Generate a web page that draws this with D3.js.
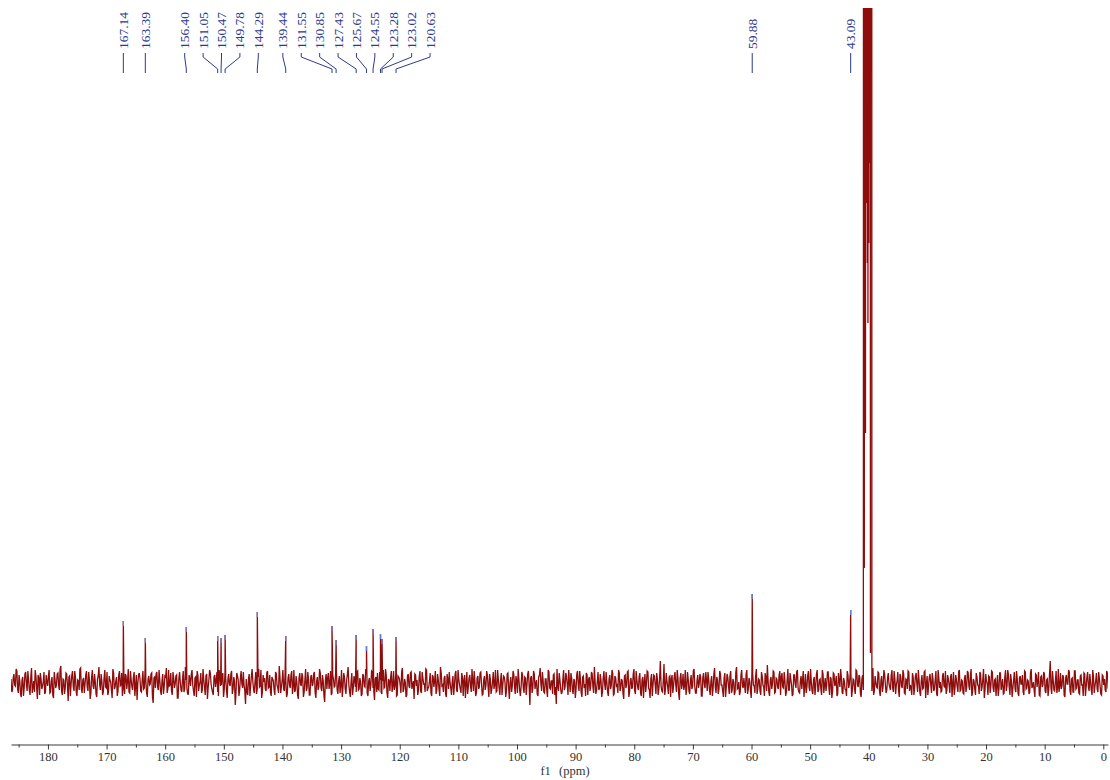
<!DOCTYPE html>
<html>
<head>
<meta charset="utf-8">
<script src="https://cdn.jsdelivr.net/npm/d3@7"></script>
<style>
  body { margin: 0; background: #fff; }
  svg { display: block; }
</style>
</head>
<body>
<svg id="chart" width="1110" height="780"></svg>
<script>
// 13C NMR spectrum, chemical shifts in ppm
const peakShifts  = [167.14, 163.39, 156.40, 151.05, 150.47, 149.78, 144.29, 139.44, 131.55,
                     130.85, 127.43, 125.67, 124.55, 123.28, 123.02, 120.63, 59.88, 43.09];
const peakHeights = [62, 45, 56, 47, 45, 48, 71, 47, 57, 43, 48, 37, 54, 49, 44, 46, 89, 73];
const peakLabels  = ["167.14", "163.39", "156.40", "151.05", "150.47", "149.78", "144.29", "139.44", "131.55",
                     "130.85", "127.43", "125.67", "124.55", "123.28", "123.02", "120.63", "59.88", "43.09"];

// solvent multiplet (off scale): line maxima and the valleys between them
const solventShifts  = [40.84, 40.76, 40.69, 40.56, 40.49, 40.40, 40.33, 40.25, 40.20, 40.14,
                        40.08, 40.00, 39.94, 39.86, 39.80, 39.72, 39.64, 39.55, 39.47];
const solventHeights = [4000, 115, 4000, 250, 4000, 480, 4000, 420, 4000, 360,
                        4000, 440, 4000, 520, 4000, 30, 4000, 4000, -8];

// baseline noise: two interleaved sample sets, from 186.3 ppm downward every 0.25 ppm
const noiseStart = 186.3;
const noiseStep = 0.25;
const noiseA = [
  4,-7,9,-3,12,-10,2,-14,6,-5,11,-8,3,-12,15,-4,-9,7,-16,5,10,-6,1,-11,8,
  -3,13,-9,6,-15,4,-2,10,-7,17,-12,3,-5,9,-18,7,-1,12,-8,5,-13,2,14,-6,3,
  -10,8,-4,11,-16,6,-3,9,-11,4,16,-7,2,-9,13,-5,-12,7,1,-15,10,-4,6,-8,12,
  -2,-13,5,9,-6,14,-10,3,-7,11,-3,-17,8,4,-9,12,-5,2,-14,7,-1,10,-20,6,9,
  -4,13,-8,2,-11,7,15,-6,-3,10,-12,5,-1,8,-15,11,-7,3,-9,16,-5,-11,4,9,-2,
  -13,6,12,-8,1,-10,14,-4,7,-16,3,10,-6,-12,8,2,-9,13,-3,5,-14,11,-7,4,-1,
  9,-11,6,-22,10,3,-7,12,-5,-2,-21,-9,4,-13,7,1,-10,11,-6,14,-3,-15,8,5,-8,
  12,-4,-9,6,2,-12,9,-5,17,-10,3,-6,11,-14,5,-2,8,-11,13,-7,1,-16,10,-3,6,
  -9,14,-5,3,-12,8,-1,11,-15,6,-4,10,-8,2,-19,9,5,-6,12,-10,4,-3,13,-11,7,
  -2,-14,10,-6,3,16,-9,1,-12,7,-4,11,-7,5,-13,9,-3,14,-10,2,-8,12,-5,-17,6,
  10,-7,3,-11,13,-4,8,-15,2,6,-9,12,-3,-13,7,4,-10,15,-6,1,-12,9,-5,11,-2,
  -16,8,3,-7,12,-10,5,-1,14,-8,-4,10,-13,6,2,-11,9,-6,16,-3,-9,7,-14,4,11,
  -5,1,-12,9,-7,13,-2,-10,6,3,-15,11,-4,8,-9,2,12,-13,5,-6,10,-1,-11,7,-3,
  8,-14,4,-6,11,-2,-9,13,-5,3,-12,7,1,-8,10,-16,6,-3,9,-11,2,14,-7,-4,8,
  -10,5,-2,12,-22,7,-5,9,-1,-11,6,15,-8,3,-10,4,-14,11,-6,2,8,-12,-21,-3,10,
  -6,-9,13,-4,7,-12,1,10,-7,4,-15,9,-2,12,-10,6,-5,-13,8,3,-8,11,-4,16,-11,
  2,-7,9,-14,5,-1,11,-9,4,-6,13,-12,7,-3,-10,10,-5,2,-16,8,-2,12,-9,5,-4,
  14,-11,3,-7,10,-13,6,1,-9,12,-5,-15,9,-2,7,-11,4,-6,22,-8,2,-12,10,-4,6,
  -14,8,-3,11,-9,5,-17,10,-1,-7,13,-6,4,-11,8,-3,14,-10,2,-5,9,-13,6,-2,11,
  -8,4,-12,7,-5,15,-10,3,-6,9,-2,-14,10,-4,6,-11,12,-7,1,-9,16,-5,-12,8,-3,
  5,-10,13,-6,2,-15,9,-3,7,-11,4,-8,11,-2,-13,6,18,-9,3,-6,12,-10,5,-4,8,
  -12,10,-5,2,-9,14,-7,4,-13,8,-1,11,-6,-10,7,3,-14,9,-4,12,-8,1,-11,6,-3,
  13,-7,4,-12,9,-2,-8,11,-5,6,-15,10,-3,7,-11,2,14,-9,5,-6,-13,8,-1,10,-7,
  3,-11,12,-4,6,-14,8,-2,-9,11,-6,4,-12,15,-8,1,-5,10,-13,7,-3,9,-10,5,-1,
  -7,13,-9,4,-2,11,-14,6,-5,9,-11,3,12,-8,-4,10,-12,7,-1,13,-9,2,-6,11,-15,
  7,-3,9,-10,4,-6,12,-13,5,1,-8,10,-4,-11,8,-2,6,-14,11,-5,3,-9,13,-7,2,
  -11,8,-4,10,-7,14,-9,2,-12,6,-3,11,-8,4,-15,9,-1,7,-10,12,-5,3,-13,8,-6,
  10,-2,-11,6,-8,13,-4,9,-14,3,-6,12,-10,5,-1,8,-12,11,-5,2,-9,14,-3,-7,9,
  -4,11,-13,7,-2,9,-10,4,-6,22,-11,3,-8,12,-5,-9,10,-3,6,-14,8,-1,11,-12,5,
  -9,12,-5,3,-11,8,-2,10,-13,6,-4,9,-7,13,-10,2,-6,11,-3,-12,7,4,-9,10,-5
];
// second set, each sample half a step after the matching one above
const noiseB = [
  -9,5,-2,14,-6,8,-11,3,-13,9,-1,12,-7,6,-10,2,13,-5,8,-12,4,-3,11,-9,1,
  7,-10,2,-12,11,-5,9,-3,14,-8,4,-11,10,-2,6,-13,8,-4,12,-9,3,-7,15,-10,5,
  -1,12,-8,3,-10,13,-6,1,-14,7,-2,9,-12,5,-4,11,-9,3,-7,14,-6,2,-13,8,-3,
  10,-5,-11,7,2,-9,12,-4,6,-13,8,-1,10,-8,3,-6,15,-10,4,-2,9,-14,5,-5,11,
  -7,3,-12,9,-4,6,-10,13,-2,-8,11,-5,7,-15,4,1,-9,12,-6,3,-11,8,-3,13,-8,
  5,-14,8,-2,10,-7,3,-12,9,-5,13,-1,-9,6,-4,11,-13,7,-2,10,-6,4,-15,9,-3,
  12,-6,2,-10,7,-13,5,-1,11,-8,4,-12,9,-3,14,-7,2,-11,6,-4,13,-9,1,-6,10,
  -5,8,-13,4,-7,11,-2,-10,6,-4,13,-8,2,-11,9,-5,12,-3,-9,7,-12,5,-1,10,-14,
  3,-8,11,-12,6,-3,9,-10,2,-7,14,-5,8,-13,3,-6,10,-1,-12,8,-4,11,-7,2,-10,
  13,-4,6,-11,9,-2,-14,10,-5,3,-9,12,-6,1,-11,7,-4,9,-13,5,-2,11,-8,4,-9,
  -6,11,-9,2,-5,14,-10,4,-8,12,-3,-7,9,-12,6,-2,11,-9,4,-14,7,-3,10,-6,2,
  9,-3,-12,6,-8,11,-1,-9,13,-5,2,-10,8,-4,12,-7,3,-13,10,-2,5,-11,9,-6,1,
  -12,7,-3,12,-9,4,-6,10,-13,8,-1,-11,5,-3,14,-8,2,-10,7,-4,11,-12,3,-7,12,
  -4,9,-11,1,-6,13,-8,3,-12,10,-2,6,-14,9,-5,1,-9,12,-3,7,-10,4,-13,11,-5,
  6,-12,9,-3,5,-10,12,-6,3,-13,8,-1,11,-9,4,-7,13,-5,2,-11,9,-4,14,-8,3,
  -11,4,-7,10,-2,13,-9,5,-11,2,-6,12,-8,3,-14,7,-1,10,-12,6,-3,9,-10,1,-7,
  11,-5,3,-9,12,-7,1,-13,8,-3,10,-11,5,-2,13,-8,4,-10,7,-5,11,-14,3,-6,9,
  -8,12,-4,6,-10,3,-15,9,-1,11,-7,4,-13,8,-2,10,-12,5,-3,-9,19,-6,2,-11,7,
  4,-10,7,-2,13,-11,5,-6,9,-3,-12,11,-8,2,-6,12,-4,-10,8,-1,6,-13,10,-5,3,
  11,-7,2,-13,9,-4,6,-11,12,-2,-8,5,-14,9,-3,7,-10,4,-12,11,-6,1,-9,13,-5,
  -3,9,-11,5,-8,12,-2,-10,14,-5,3,-12,7,-4,10,-8,2,-13,6,-1,11,-9,4,-6,12,
  6,-4,11,-13,3,-7,10,-2,-11,8,-5,13,-9,2,-6,12,-3,-10,7,-5,14,-8,3,-12,9,
  -9,3,-6,13,-10,5,-2,11,-12,4,-8,9,-1,-13,10,-4,6,-11,2,-7,12,-5,9,-14,4,
  -6,13,-2,8,-11,4,-7,12,-3,-10,9,-5,2,-12,7,-4,11,-8,3,-9,13,-1,-7,10,-4,
  8,-5,12,-11,2,-7,9,-3,13,-10,4,-6,11,-2,-12,6,-4,10,-9,3,-13,8,-5,12,-1,
  -12,6,-2,10,-8,3,-11,13,-5,-9,7,-3,12,-7,4,-10,9,-1,-12,8,-4,11,-8,3,-10,
  5,-9,12,-3,7,-13,4,-6,10,-2,-11,9,-4,14,-7,2,-12,6,-3,11,-9,4,-2,-13,10,
  -7,4,-10,13,-3,8,-12,2,-5,11,-9,4,-13,7,-1,-9,12,-6,3,-11,10,-5,1,-14,8,
  2,-12,6,-4,11,-8,3,-13,9,-5,12,-7,2,-10,14,-3,-6,8,-12,5,-1,13,-8,4,-9,
  12,-6,3,-10,7,-2,-13,9,-4,11,-8,1,-12,6,-3,10,-9,5,-11,8,-2,-7,12,-5,3
];

const majorTicks = [180, 170, 160, 150, 140, 130, 120, 110, 100, 90, 80, 70, 60, 50, 40, 30, 20, 10, 0];
const minorTicks = [185, 175, 165, 155, 145, 135, 125, 115, 105, 95, 85, 75, 65, 55, 45, 35, 25, 15, 5];

const svg = d3.select("#chart");
const W = 1110, H = 780;
const plotLeft = 11, plotRight = 1108, plotTop = 8, axisY = 744.5;

svg.append("rect").attr("width", W).attr("height", H).attr("fill", "#fff");

const x = d3.scaleLinear().domain([186.3, -0.8]).range([plotLeft, plotRight]);
const y = d3.scaleLinear().domain([0, 675]).range([683, plotTop]);

// build the trace: noise samples + peak maxima + solvent lines
const solventLo = 39.42, solventHi = 40.92;
const pts = [];
function addNoise(arr, offset) {
  arr.forEach((v, i) => {
    const ppm = noiseStart - (i + offset) * noiseStep;
    if (ppm > solventLo && ppm < solventHi) return;
    pts.push([ppm, v]);
  });
}
addNoise(noiseA, 0);
addNoise(noiseB, 0.5);
peakShifts.forEach((p, i) => pts.push([p, peakHeights[i]]));
solventShifts.forEach((p, i) => pts.push([p, solventHeights[i]]));
pts.sort((a, b) => b[0] - a[0]);

const defs = svg.append("defs");
defs.append("clipPath").attr("id", "plotClip")
  .append("rect")
  .attr("x", plotLeft).attr("y", plotTop)
  .attr("width", plotRight - plotLeft).attr("height", axisY - plotTop - 4);

const line = d3.line().x(d => x(d[0])).y(d => y(d[1]));

svg.append("path")
  .datum(pts)
  .attr("clip-path", "url(#plotClip)")
  .attr("fill", "none")
  .attr("stroke", "#8e0c0c")
  .attr("stroke-width", 1.3)
  .attr("stroke-linejoin", "miter")
  .attr("d", line);

// peak-pick markers
svg.append("g").selectAll("line")
  .data(peakShifts)
  .join("line")
  .attr("x1", d => x(d)).attr("x2", d => x(d))
  .attr("y1", (d, i) => y(peakHeights[i]))
  .attr("y2", (d, i) => y(peakHeights[i]) + 5)
  .attr("stroke", "#6f7fc9")
  .attr("stroke-width", 1.4);

// label layout: spread overlapping labels evenly around their peaks' mean position
const gap = 18.4;
let groups = peakShifts.map((p, i) => ({ idx: [i], xs: [x(p)] }));
function place(g) {
  const mean = d3.mean(g.xs);
  const n = g.idx.length;
  g.start = mean - (n - 1) * gap / 2;
  g.end = g.start + (n - 1) * gap;
}
groups.forEach(place);
let merged = true;
while (merged) {
  merged = false;
  for (let k = 0; k < groups.length - 1; k++) {
    const a = groups[k], b = groups[k + 1];
    if (b.start - a.end < gap) {
      const g = { idx: a.idx.concat(b.idx), xs: a.xs.concat(b.xs) };
      place(g);
      groups.splice(k, 2, g);
      merged = true;
      break;
    }
  }
}
const labelX = new Array(peakShifts.length);
groups.forEach(g => g.idx.forEach((i, j) => { labelX[i] = g.start + j * gap; }));

const labelColor = "#2c3a8e";
const lab = svg.append("g");
lab.selectAll("path")
  .data(peakShifts)
  .join("path")
  .attr("fill", "none")
  .attr("stroke", labelColor)
  .attr("stroke-width", 1)
  .attr("d", (d, i) => d3.line()([[labelX[i], 53], [labelX[i], 57], [x(d), 69], [x(d), 73]]));

lab.selectAll("text")
  .data(peakLabels)
  .join("text")
  .attr("transform", (d, i) => `translate(${labelX[i] + 4.5},49) rotate(-90)`)
  .attr("text-anchor", "start")
  .attr("font-family", "'Liberation Serif', 'Times New Roman', serif")
  .attr("font-size", 13.5)
  .attr("fill", labelColor)
  .text(d => d);

// axis
const axisColor = "#3a3a3a";
const axisMajor = d3.axisBottom(x)
  .tickValues(majorTicks)
  .tickFormat(d3.format("d"))
  .tickSize(5)
  .tickSizeOuter(0)
  .tickPadding(3);
const gAxis = svg.append("g").attr("transform", `translate(0,${axisY})`).call(axisMajor);
gAxis.select(".domain").attr("stroke", axisColor).attr("stroke-width", 1.1);
gAxis.selectAll(".tick line").attr("stroke", axisColor);
gAxis.selectAll(".tick text")
  .attr("font-family", "'Liberation Serif', 'Times New Roman', serif")
  .attr("font-size", 12.5)
  .attr("fill", "#333");

const axisMinor = d3.axisBottom(x)
  .tickValues(minorTicks)
  .tickFormat("")
  .tickSize(3)
  .tickSizeOuter(0);
const gMinor = svg.append("g").attr("transform", `translate(0,${axisY})`).call(axisMinor);
gMinor.select(".domain").remove();
gMinor.selectAll(".tick line").attr("stroke", axisColor);

svg.append("text")
  .attr("x", 565).attr("y", 775)
  .attr("text-anchor", "middle")
  .attr("font-family", "'Liberation Serif', 'Times New Roman', serif")
  .attr("font-size", 12.5)
  .attr("word-spacing", 5)
  .attr("fill", "#333")
  .text("f1 (ppm)");
</script>
</body>
</html>
